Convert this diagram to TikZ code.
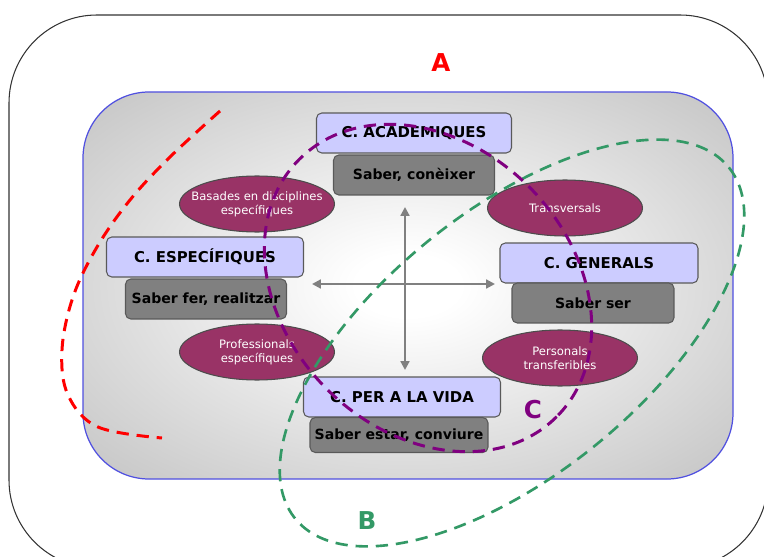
\documentclass[tikz,border=0pt]{standalone}
\usepackage{fontspec}
\setmainfont{DejaVu Sans}
\usepackage{tikz}
\usetikzlibrary{arrows.meta, shapes.geometric}
\definecolor{lavbox}{HTML}{CCCCFF}
\definecolor{saberfill}{HTML}{808080}
\definecolor{traitfill}{HTML}{993366}
\definecolor{bggray}{HTML}{C0C0C0}
\definecolor{panelblue}{HTML}{5050E0}
\definecolor{greenB}{HTML}{339966}
\definecolor{purpleC}{HTML}{800080}
\pgfdeclareradialshading{panelshade}{\pgfpoint{0bp}{0bp}}{color(0bp)=(white); color(4bp)=(white); color(38bp)=(bggray); color(100bp)=(bggray)}

\begin{document}
\begin{tikzpicture}[x=0.02cm, y=-0.02cm,
  compbox/.style={draw=black!65, line width=0.6pt, fill=lavbox, rounded corners=3pt, minimum height=0.8cm, inner sep=0pt, font=\bfseries\fontsize{8.5}{10}\selectfont},
  saberbox/.style={compbox, fill=saberfill, font=\bfseries\fontsize{8}{10}\selectfont},
  trait/.style={ellipse, draw=black!70, line width=0.6pt, fill=traitfill, text=white, align=center, minimum width=3.1cm, minimum height=1.12cm, inner xsep=-10pt, inner ysep=0pt, font=\fontsize{6.6}{7.8}\selectfont},
  axisarrow/.style={draw=saberfill, line width=1.2pt, {Triangle[length=5pt,width=5pt]}-{Triangle[length=5pt,width=5pt]}},
  biglabel/.style={font=\bfseries\fontsize{14}{14}\selectfont},
  redline/.style={red, line width=1.7pt, dash pattern=on 7pt off 4.5pt},
  greenline/.style={greenB, line width=1.5pt, dash pattern=on 7pt off 4.5pt},
  purpleline/.style={purpleC, line width=1.7pt, dash pattern=on 7pt off 4.5pt}]

% Define lengths
\def\framerad{1.76cm}
\def\panelrad{1.32cm}

% Fix the page size
\useasboundingbox (0,0) rectangle (764,557);
\clip (0,0) rectangle (764,557);

% Draw the outer frame
\draw[black!80, line width=0.6pt, rounded corners=\framerad] (9,15) rectangle (768,568);

% Draw the shaded panel
\draw[panelblue, line width=0.7pt, rounded corners=\panelrad, shade, shading=panelshade] (83,92) rectangle (733,479);

% Draw the cross of arrows
\coordinate (ntop) at (405,207);
\coordinate (nbot) at (405,370);
\coordinate (wleft) at (312,284);
\coordinate (eright) at (495,284);
\draw[axisarrow] (ntop) -- (nbot);
\draw[axisarrow] (wleft) -- (eright);

% Draw the four ellipses
\node[trait] (basades) at (257,204) {Basades en disciplines\\específiques};
\node[trait] (transv) at (565,208) {Transversals};
\node[trait] (profes) at (257,352) {Professionals\\específiques};
\node[trait] (person) at (560,358) {Personals\\transferibles};

% Draw the competence boxes
\node[compbox, minimum width=3.9cm] (acad) at (414,133) {C. ACADEMIQUES};
\node[saberbox, minimum width=3.22cm] (coneixer) at (414,175) {Saber, conèixer};
\node[compbox, minimum width=3.94cm] (espec) at (205,257) {C. ESPECÍFIQUES};
\node[saberbox, minimum width=3.22cm] (fer) at (206,299) {Saber fer, realitzar};
\node[compbox, minimum width=3.96cm] (gener) at (599,263) {C. GENERALS};
\node[saberbox, minimum width=3.24cm] (ser) at (593,303) {Saber ser};
\node[compbox, minimum width=3.94cm] (vida) at (402,397) {C. PER A LA VIDA};
\node[saberbox, minimum width=3.56cm, minimum height=0.7cm] (conviure) at (399,435) {Saber estar, conviure};

% Draw the dashed regions
\draw[redline] plot[smooth, tension=0.6] coordinates {(220,111) (170,157) (130,200) (97,247) (73,297) (62,350) (68,395) (98,427) (162,438)};
\draw[greenline, shift={(512,343)}, rotate=39] (0,0) ellipse [x radius=279, y radius=132];
\draw[purpleline, shift={(428,288)}, rotate=-45] (0,0) ellipse [x radius=182, y radius=143];

% Labels for the regions
\node[biglabel, red] (labA) at (441,63) {A};
\node[biglabel, greenB] (labB) at (367,521) {B};
\node[biglabel, purpleC] (labC) at (533,410) {C};

\end{tikzpicture}
\end{document}
